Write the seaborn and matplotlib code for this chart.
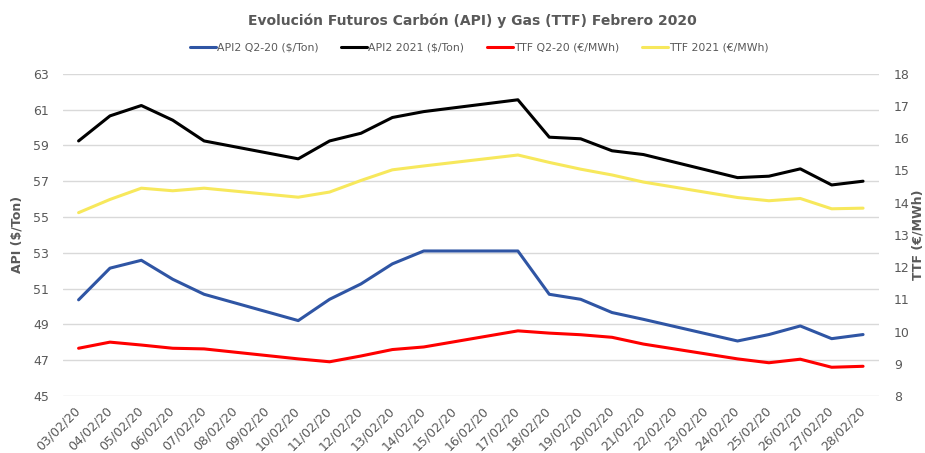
import seaborn as sns
import matplotlib
matplotlib.use("Agg")
import matplotlib.pyplot as plt
import pandas as pd

# Datos (días hábiles de febrero 2020)
dias = [3, 4, 5, 6, 7, 10, 11, 12, 13, 14, 17, 18, 19, 20, 21, 24, 25, 26, 27, 28]
api2_q220 = [50.37, 52.14, 52.58, 51.52, 50.68, 49.21, 50.40, 51.26, 52.38, 53.10,
             53.10, 50.68, 50.40, 49.66, 49.28, 48.07, 48.43, 48.91, 48.20, 48.43]
api2_2021 = [59.25, 60.65, 61.23, 60.41, 59.25, 58.25, 59.25, 59.68, 60.56, 60.89,
             61.55, 59.46, 59.37, 58.70, 58.49, 57.20, 57.28, 57.69, 56.79, 57.00]
ttf_q220 = [9.48, 9.67, 9.58, 9.48, 9.46, 9.15, 9.06, 9.24, 9.44, 9.52,
            10.02, 9.95, 9.90, 9.82, 9.61, 9.15, 9.03, 9.14, 8.89, 8.92]
ttf_2021 = [13.69, 14.10, 14.45, 14.37, 14.45, 14.17, 14.33, 14.69, 15.02, 15.14,
            15.48, 15.25, 15.04, 14.86, 14.64, 14.16, 14.06, 14.13, 13.81, 13.83]
etiquetas = ["%02d/02/20" % d for d in range(3, 29)]

df = pd.DataFrame({"x": [d - 3 for d in dias], "api_q": api2_q220, "api_21": api2_2021,
                   "ttf_q": ttf_q220, "ttf_21": ttf_2021})

sns.set_style("white")
plt.rcParams['font.family'] = ['DejaVu Sans']
gris = "#595959"

fig = plt.figure(figsize=(9.25, 4.53), dpi=100)
ax = fig.add_axes([0.068, 0.126, 0.882, 0.711])
ax2 = ax.twinx()

c_azul, c_negro, c_rojo, c_amar = "#2f55a4", "#000000", "#ff0000", "#f7e85c"
lw = 2.2
sns.lineplot(data=df, x="x", y="api_q", ax=ax, color=c_azul, lw=lw, label="API2 Q2-20 ($/Ton)", legend=False)
sns.lineplot(data=df, x="x", y="api_21", ax=ax, color=c_negro, lw=lw, label="API2 2021 ($/Ton)", legend=False)
sns.lineplot(data=df, x="x", y="ttf_q", ax=ax2, color=c_rojo, lw=lw, label="TTF Q2-20 (€/MWh)", legend=False)
sns.lineplot(data=df, x="x", y="ttf_21", ax=ax2, color=c_amar, lw=lw, label="TTF 2021 (€/MWh)", legend=False)

ax.set_xlim(-0.5, 25.5)
ax.set_ylim(45, 63)
ax.set_yticks(range(45, 64, 2))
ax2.set_ylim(8, 18)
ax2.set_yticks(range(8, 19))
ax.set_xticks(range(26))
ax.set_xticklabels(etiquetas, rotation=45, ha="right", va="center", rotation_mode="anchor",
                   fontsize=8.3, color=gris)
ax.grid(axis="y", color="#d9d9d9", lw=1)
ax.set_axisbelow(True)
for a in (ax, ax2):
    for s in a.spines.values():
        s.set_visible(False)
    a.tick_params(length=0, labelsize=9, colors=gris, pad=10)
ax.tick_params(axis="x", pad=9)
ax2.tick_params(pad=11)

ax.set_xlabel("")
ax.set_ylabel("API ($/Ton)", fontsize=9, color=gris, fontweight="bold", labelpad=7)
ax2.set_ylabel("TTF (€/MWh)", fontsize=9, color=gris, fontweight="bold", rotation=90, labelpad=1)

h1, l1 = ax.get_legend_handles_labels()
h2, l2 = ax2.get_legend_handles_labels()
fig.legend(h1 + h2, l1 + l2, loc="center", bbox_to_anchor=(0.518, 0.895), ncol=4, frameon=False,
           fontsize=7.8, handlelength=2.4, columnspacing=2.1, handletextpad=0.1, labelcolor=gris)

fig.suptitle("Evolución Futuros Carbón (API) y Gas (TTF) Febrero 2020", x=0.511, y=0.97,
             fontsize=10, fontweight="bold", color=gris)

fig.savefig("out.png", dpi=100)
